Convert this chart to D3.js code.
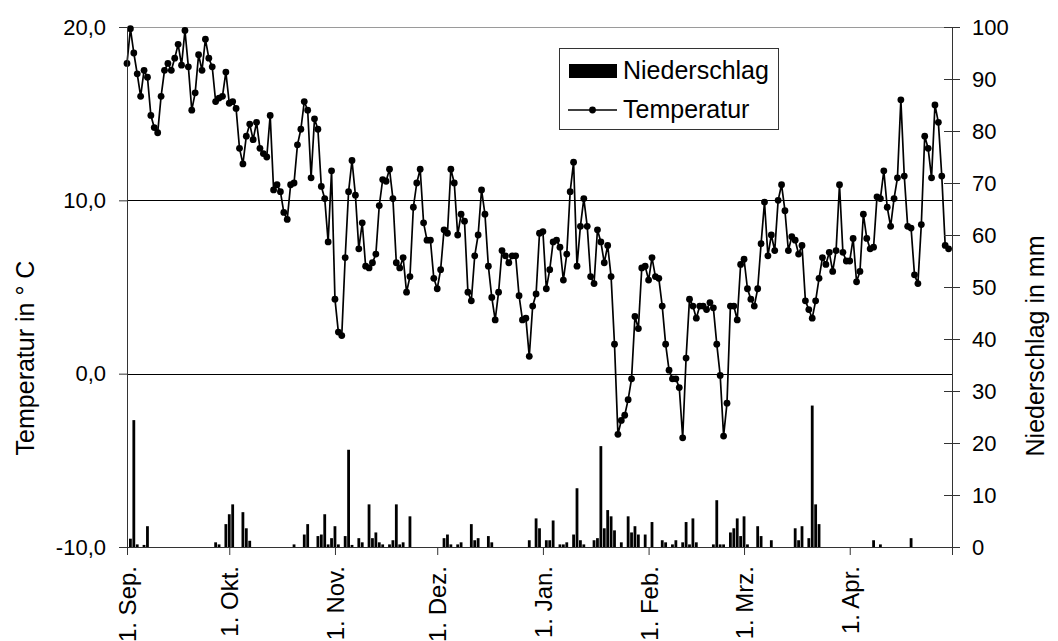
<!DOCTYPE html>
<html>
<head>
<meta charset="utf-8">
<script src="https://cdn.jsdelivr.net/npm/d3@7"></script>
<style>
  body { margin: 0; background: #fff; }
  svg { font-family: Arial, "Liberation Sans", sans-serif; }
</style>
</head>
<body>
<div id="chart"></div>
<script>
// Zeitraum: 1. Sep. bis 1. Mai (ein Wert pro Tag)
const startDay = new Date(Date.UTC(2001, 8, 1));
const endDay = new Date(Date.UTC(2002, 4, 1));

const monthTicks = ["2001-09-01", "2001-10-01", "2001-11-01", "2001-12-01", "2002-01-01",
  "2002-02-01", "2002-03-01", "2002-04-01", "2002-05-01"];
const monthLabels = ["1. Sep.", "1. Okt.", "1. Nov.", "1. Dez.", "1. Jan.",
  "1. Feb.", "1. Mrz.", "1. Apr.", ""];

const tempTicks = [-10, 0, 10, 20];
const rainTicks = [0, 10, 20, 30, 40, 50, 60, 70, 80, 90, 100];

// Tagesmitteltemperatur in °C
const temperatur = [
  17.9, 19.9, 18.5, 17.3, 16.0, 17.5, 17.1, 14.9, 14.2, 13.9,
  16.0, 17.5, 17.9, 17.5, 18.2, 19.0, 17.8, 19.8, 17.7, 15.2,
  16.2, 18.4, 17.5, 19.3, 18.2, 17.7, 15.7, 15.9, 16.0, 17.4,
  15.6, 15.7, 15.3, 13.0, 12.1, 13.7, 14.4, 13.5, 14.5, 13.0,
  12.7, 12.5, 14.9, 10.6, 10.9, 10.5, 9.3, 8.9, 10.9, 11.0,
  13.2, 14.1, 15.7, 15.2, 11.3, 14.7, 14.1, 10.8, 10.1, 7.6,
  11.7, 4.3, 2.4, 2.2, 6.7, 10.5, 12.3, 10.3, 7.2, 8.7,
  6.2, 6.1, 6.4, 6.9, 9.7, 11.2, 11.1, 11.8, 10.1, 6.4,
  6.1, 6.7, 4.7, 5.6, 9.6, 11.0, 11.8, 8.7, 7.7, 7.7,
  5.5, 4.9, 6.0, 8.3, 8.1, 11.8, 11.0, 8.0, 9.2, 8.8,
  4.7, 4.2, 6.8, 8.0, 10.6, 9.2, 6.2, 4.4, 3.1, 4.7,
  7.1, 6.8, 6.4, 6.8, 6.8, 4.5, 3.1, 3.2, 1.0, 3.9,
  4.6, 8.1, 8.2, 4.9, 6.0, 7.6, 7.7, 7.3, 5.4, 6.9,
  10.5, 12.2, 6.2, 8.5, 10.1, 8.5, 5.6, 5.2, 8.3, 7.6,
  6.4, 7.4, 5.6, 1.7, -3.5, -2.7, -2.4, -1.5, -0.3, 3.3,
  2.6, 6.1, 6.2, 5.4, 6.7, 5.6, 5.5, 3.9, 1.7, 0.2,
  -0.3, -0.3, -0.8, -3.7, 0.9, 4.3, 3.9, 3.2, 3.9, 3.9,
  3.7, 4.1, 3.8, 1.7, -0.1, -3.6, -1.7, 3.9, 3.9, 3.1,
  6.3, 6.6, 4.9, 4.3, 3.9, 4.9, 7.5, 9.9, 6.8, 8.0,
  7.1, 10.0, 10.9, 9.4, 7.1, 7.9, 7.7, 6.9, 7.4, 4.2,
  3.7, 3.2, 4.2, 5.5, 6.7, 6.3, 7.0, 5.9, 7.1, 10.9,
  7.0, 6.5, 6.5, 7.8, 5.3, 5.9, 9.2, 7.8, 7.2, 7.3,
  10.2, 10.1, 11.7, 9.6, 8.5, 10.1, 11.3, 15.8, 11.4, 8.5,
  8.4, 5.7, 5.2, 8.6, 13.7, 13.0, 11.3, 15.5, 14.5, 11.4,
  7.4, 7.2
];

// Tagesniederschlag in mm
const niederschlag = [
  0, 1.6, 24.4, 0.5, 0, 0.4, 4.0, 0, 0, 0,
  0, 0, 0, 0, 0, 0, 0, 0, 0, 0,
  0, 0, 0, 0, 0, 0, 0.9, 0.5, 0, 4.4,
  6.3, 8.2, 0, 0, 6.7, 3.6, 1.2, 0, 0, 0,
  0, 0, 0, 0, 0, 0, 0, 0, 0, 0.5,
  0, 0, 2.4, 4.4, 0, 0, 2.1, 2.4, 6.3, 0.5,
  1.7, 4.0, 0.5, 0, 2.1, 18.7, 0.4, 0, 1.7, 0.9,
  0, 8.2, 1.7, 2.8, 0.9, 0.5, 0, 0.5, 1.3, 8.2,
  0.5, 0.9, 0, 5.9, 0, 0, 0, 0, 0, 0,
  0, 0, 0, 1.7, 2.4, 0.5, 0, 0.5, 0.9, 0,
  0, 4.4, 1.3, 1.7, 0, 0, 2.1, 0.9, 0, 0,
  0, 0, 0, 0, 0, 0, 0, 0, 1.3, 0,
  5.5, 3.6, 0, 1.3, 1.3, 5.1, 0, 0.5, 0.5, 0.9,
  0, 2.4, 11.3, 1.3, 0.5, 0, 0, 1.3, 1.7, 19.4,
  3.6, 7.1, 5.9, 3.2, 0, 0.9, 0, 5.9, 2.8, 4.0,
  2.4, 0, 2.4, 0, 4.8, 0, 0, 1.3, 0.9, 0,
  0.5, 1.3, 0, 0.9, 4.8, 0.5, 5.5, 0.9, 0, 0,
  0, 0, 0.5, 9.0, 0.5, 0.5, 0, 2.8, 3.6, 5.5,
  2.1, 5.9, 0.5, 0, 0, 4.0, 2.1, 0, 0, 1.3,
  0, 0, 0, 0, 0, 0, 3.6, 1.3, 4.0, 0,
  1.7, 27.2, 8.2, 4.4, 0, 0, 0, 0, 0, 0,
  0, 0, 0, 0, 0, 0, 0, 0, 0, 1.3,
  0, 0.5, 0, 0, 0, 0, 0, 0, 0, 0,
  1.7, 0, 0, 0, 0, 0, 0, 0, 0, 0,
  0, 0
];

class KlimaChart {
  constructor(_config, _temp, _rain) {
    this.config = {
      parentElement: _config.parentElement,
      containerWidth: _config.containerWidth || 1058,
      containerHeight: _config.containerHeight || 641,
      margin: _config.margin || { top: 27, right: 106, bottom: 94, left: 127 },
      numberSize: 22,
      labelSize: 24,
      titleSize: 25,
    };
    this.temp = _temp;
    this.rain = _rain;
    this.initVis();
  }

  initVis() {
    let vis = this;

    vis.width = vis.config.containerWidth - vis.config.margin.left - vis.config.margin.right;
    vis.height = vis.config.containerHeight - vis.config.margin.top - vis.config.margin.bottom;

    vis.svg = d3
      .select(vis.config.parentElement)
      .append("svg")
      .attr("width", vis.config.containerWidth)
      .attr("height", vis.config.containerHeight);

    vis.chart = vis.svg
      .append("g")
      .attr("transform", `translate(${vis.config.margin.left},${vis.config.margin.top})`);

    vis.xScale = d3.scaleUtc().domain([startDay, endDay]).range([0, vis.width]);
    vis.yTemp = d3.scaleLinear().domain([-10, 20]).range([vis.height, 0]);
    vis.yRain = d3.scaleLinear().domain([0, 100]).range([vis.height, 0]);

    vis.days = vis.temp.map((t, i) => d3.utcDay.offset(startDay, i));

    this.updateVis();
  }

  updateVis() {
    let vis = this;

    // Rahmen oben
    vis.chart
      .append("line")
      .attr("x1", 0)
      .attr("x2", vis.width)
      .attr("y1", 0.5)
      .attr("y2", 0.5)
      .attr("stroke", "#9a9a9a");

    // Gitterlinien bei 10 und 0
    vis.chart
      .selectAll(".grid")
      .data([0, 10])
      .join("line")
      .attr("class", "grid")
      .attr("x1", 0)
      .attr("x2", vis.width)
      .attr("y1", (d) => Math.round(vis.yTemp(d)) + 0.5)
      .attr("y2", (d) => Math.round(vis.yTemp(d)) + 0.5)
      .attr("stroke", "#000");

    // Niederschlag-Balken
    const barW = 2.8;
    vis.chart
      .append("g")
      .selectAll("rect")
      .data(vis.rain.map((v, i) => ({ day: vis.days[i], v })).filter((d) => d.v > 0))
      .join("rect")
      .attr("x", (d) => vis.xScale(d.day) - barW / 2)
      .attr("width", barW)
      .attr("y", (d) => vis.yRain(d.v))
      .attr("height", (d) => vis.height - vis.yRain(d.v))
      .attr("fill", "#000");

    // Temperaturlinie
    const line = d3
      .line()
      .x((d, i) => vis.xScale(vis.days[i]))
      .y((d) => vis.yTemp(d));

    vis.chart
      .append("path")
      .datum(vis.temp)
      .attr("d", line)
      .attr("fill", "none")
      .attr("stroke", "#000")
      .attr("stroke-width", 1.7)
      .attr("stroke-linejoin", "round");

    vis.chart
      .append("g")
      .selectAll("circle")
      .data(vis.temp)
      .join("circle")
      .attr("cx", (d, i) => vis.xScale(vis.days[i]))
      .attr("cy", (d) => vis.yTemp(d))
      .attr("r", 3.4)
      .attr("fill", "#000");

    // Achsen
    const fmt = (d) => d.toFixed(1).replace(".", ",");
    const leftAxis = vis.chart
      .append("g")
      .attr("class", "axis")
      .call(d3.axisLeft(vis.yTemp).tickValues(tempTicks).tickFormat(fmt).tickSize(8).tickPadding(13));

    const rightAxis = vis.chart
      .append("g")
      .attr("class", "axis")
      .attr("transform", `translate(${vis.width},0)`)
      .call(d3.axisRight(vis.yRain).tickValues(rainTicks).tickSize(8).tickPadding(12));
    rightAxis.selectAll(".tick line").attr("x1", -8);

    const monthDates = monthTicks.map((s) => new Date(s + "T00:00:00Z"));
    const bottomAxis = vis.chart
      .append("g")
      .attr("class", "axis")
      .attr("transform", `translate(0,${vis.height})`)
      .call(
        d3.axisBottom(vis.xScale)
          .tickValues(monthDates)
          .tickFormat((d, i) => monthLabels[i])
          .tickSize(8)
      );

    vis.svg.selectAll(".axis .tick line").attr("stroke", "#333");
    vis.svg
      .selectAll(".axis text")
      .attr("font-size", vis.config.numberSize)
      .attr("font-family", "Arial, 'Liberation Sans', sans-serif")
      .attr("fill", "#000");
    bottomAxis
      .selectAll(".tick text")
      .attr("transform", "rotate(-90)")
      .attr("x", -19)
      .attr("y", 0)
      .attr("dy", "0.36em")
      .attr("text-anchor", "end")
      .attr("font-size", vis.config.labelSize);

    // Achsenlinien ohne Endmarken
    vis.svg.selectAll(".axis .domain").attr("stroke", "#333").attr("stroke-width", 1);
    leftAxis.select(".domain").attr("d", `M0.5,0V${vis.height}`);
    rightAxis.select(".domain").attr("d", `M0.5,0V${vis.height}`);
    bottomAxis.select(".domain").attr("d", `M0,0.5H${vis.width}`);

    // Achsentitel
    vis.svg
      .append("text")
      .attr("transform", "translate(34,358) rotate(-90)")
      .attr("text-anchor", "middle")
      .attr("font-size", vis.config.titleSize)
      .text("Temperatur in ° C");

    vis.svg
      .append("text")
      .attr("transform", "translate(1044,346) rotate(-90)")
      .attr("text-anchor", "middle")
      .attr("font-size", vis.config.titleSize)
      .text("Niederschlag in mm");

    this.renderLegend();
  }

  renderLegend() {
    let vis = this;
    const fs = vis.config.titleSize;
    const lg = vis.svg.append("g").attr("transform", "translate(559,48)");

    lg.append("rect")
      .attr("x", 0.5)
      .attr("y", 0.5)
      .attr("width", 219)
      .attr("height", 81)
      .attr("fill", "#fff")
      .attr("stroke", "#333");

    lg.append("rect")
      .attr("x", 10)
      .attr("y", 16)
      .attr("width", 48)
      .attr("height", 14)
      .attr("fill", "#000");

    lg.append("text")
      .attr("x", 64)
      .attr("y", 31)
      .attr("font-size", fs)
      .text("Niederschlag");

    lg.append("line")
      .attr("x1", 9)
      .attr("x2", 58)
      .attr("y1", 62)
      .attr("y2", 62)
      .attr("stroke", "#000")
      .attr("stroke-width", 1.7);

    lg.append("circle")
      .attr("cx", 33.5)
      .attr("cy", 62)
      .attr("r", 3.4)
      .attr("fill", "#000");

    lg.append("text")
      .attr("x", 64)
      .attr("y", 70)
      .attr("font-size", fs)
      .text("Temperatur");
  }
}

new KlimaChart({ parentElement: "#chart" }, temperatur, niederschlag);
</script>
</body>
</html>
